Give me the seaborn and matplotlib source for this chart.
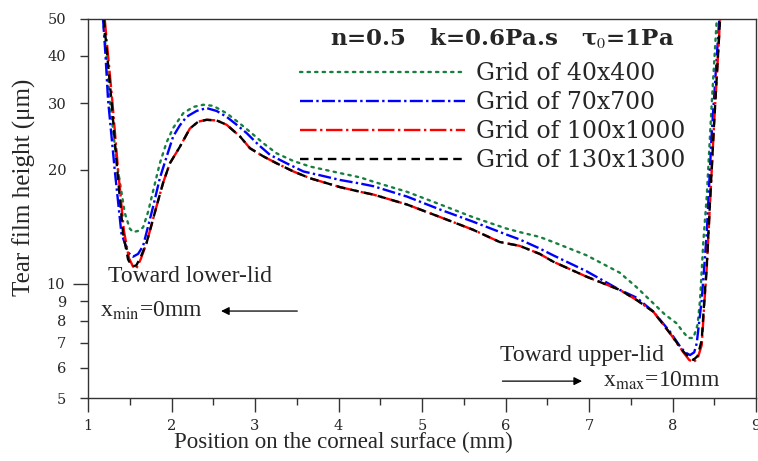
import numpy as np
import pandas as pd
import matplotlib
matplotlib.use("Agg")
import matplotlib.pyplot as plt
import seaborn as sns
from matplotlib.ticker import FixedLocator, FixedFormatter

# ---- data ----
x_40 = [1.18, 1.22, 1.26, 1.34, 1.44, 1.50, 1.54, 1.60, 1.66, 1.72, 1.78, 1.86, 1.94, 2.02,
        2.14, 2.26, 2.38, 2.50, 2.66, 2.80, 2.94, 3.10, 3.26, 3.46, 3.66, 4.02, 4.26, 4.42,
        4.82, 5.22, 5.61, 6.01, 6.17, 6.41, 6.57, 6.97, 7.37, 7.57, 7.77, 7.91, 8.05, 8.12,
        8.19, 8.25, 8.30, 8.33, 8.37, 8.41, 8.47, 8.53]
h_40 = [50, 40, 30.6, 21.2, 15.4, 14.0, 13.7, 13.8, 14.1, 15.5, 17.6, 20.8, 23.6, 25.8,
        28.2, 29.3, 29.7, 29.5, 28.2, 26.7, 25.2, 23.5, 22.1, 21.1, 20.4, 19.6, 19.1, 18.6,
        17.5, 16.2, 15.0, 14.0, 13.7, 13.3, 12.9, 11.9, 10.7, 9.8, 8.89, 8.3, 7.87, 7.5,
        7.2, 7.2, 7.8, 9.07, 13.0, 17.0, 30.0, 50]

x_70 = [1.18, 1.21, 1.24, 1.32, 1.40, 1.48, 1.54, 1.60, 1.66, 1.72, 1.78, 1.86, 1.94, 2.02,
        2.10, 2.18, 2.30, 2.42, 2.54, 2.66, 2.78, 2.90, 3.04, 3.18, 3.38, 3.58, 3.80, 4.02,
        4.26, 4.42, 4.82, 5.22, 5.61, 6.01, 6.17, 6.41, 6.57, 6.97, 7.37, 7.57, 7.77, 7.97,
        8.09, 8.15, 8.21, 8.26, 8.29, 8.35, 8.41, 8.47, 8.56]
h_70 = [50, 40, 30.6, 20.0, 13.6, 12.1, 11.8, 12.0, 12.6, 14.2, 16.0, 19.0, 21.6, 24.5,
        26.2, 27.6, 28.6, 29.1, 28.6, 27.6, 26.3, 25.0, 23.3, 21.9, 20.8, 19.8, 19.3, 18.8,
        18.4, 18.1, 17.0, 15.7, 14.6, 13.5, 13.1, 12.4, 11.9, 10.8, 9.64, 9.2, 8.45, 7.48,
        6.84, 6.6, 6.49, 6.6, 6.97, 9.07, 13.6, 25.0, 50]

x_100 = [1.20, 1.25, 1.29, 1.36, 1.43, 1.49, 1.54, 1.58, 1.63, 1.70, 1.76, 1.82, 1.90, 1.98,
         2.10, 2.22, 2.32, 2.42, 2.54, 2.66, 2.82, 2.94, 3.10, 3.26, 3.46, 3.66, 4.02, 4.26,
         4.42, 4.82, 5.22, 5.61, 5.93, 6.17, 6.41, 6.57, 6.97, 7.37, 7.57, 7.77, 7.97, 8.13,
         8.20, 8.25, 8.30, 8.35, 8.38, 8.41, 8.45, 8.50, 8.57]
h_100 = [50, 38, 30.6, 20.0, 13.8, 11.7, 11.1, 11.0, 11.6, 12.8, 14.3, 16.0, 18.5, 20.8,
         23.0, 25.7, 26.8, 27.1, 27.0, 26.3, 24.5, 22.8, 21.7, 20.8, 19.8, 19.0, 18.0, 17.5,
         17.2, 16.2, 15.0, 13.9, 12.9, 12.6, 12.0, 11.45, 10.45, 9.64, 9.07, 8.45, 7.41, 6.6,
         6.3, 6.22, 6.35, 6.9, 8.8, 11.0, 16.4, 27.0, 50]

x_130 = [1.19, 1.24, 1.28, 1.35, 1.42, 1.48, 1.53, 1.58, 1.64, 1.70, 1.76, 1.82, 1.90, 1.98,
         2.10, 2.22, 2.32, 2.42, 2.54, 2.66, 2.82, 2.94, 3.10, 3.26, 3.46, 3.66, 4.02, 4.26,
         4.42, 4.82, 5.22, 5.61, 5.93, 6.17, 6.41, 6.57, 6.97, 7.37, 7.57, 7.77, 7.97, 8.13,
         8.20, 8.25, 8.30, 8.35, 8.38, 8.41, 8.45, 8.50, 8.57]
h_130 = [50, 38, 30.6, 20.0, 13.6, 11.6, 11.1, 11.2, 11.9, 12.8, 14.3, 16.0, 18.5, 20.8,
         23.0, 25.7, 26.8, 27.1, 27.0, 26.3, 24.5, 22.8, 21.7, 20.8, 19.8, 19.0, 18.0, 17.5,
         17.2, 16.2, 15.0, 13.9, 12.9, 12.6, 12.0, 11.45, 10.45, 9.64, 9.07, 8.45, 7.41, 6.63,
         6.4, 6.30, 6.45, 7.1, 9.0, 11.1, 16.6, 27.0, 50]

labels = ["Grid of 40x400", "Grid of 70x700", "Grid of 100x1000", "Grid of 130x1300"]
x_ticks = [1, 2, 3, 4, 5, 6, 7, 8, 9]
y_major = [10]
y_minor = [5, 6, 7, 8, 9, 20, 30, 40, 50]

colors = ["#17803f", "#0000ff", "#ff0000", "#000000"]
styles = [(0, (1, 2.2)), (0, (5.5, 1.4, 1, 1.4)), (0, (7, 1.5, 1, 1.5)), (0, (3.6, 2.3))]

sns.set_style("white")
plt.rcParams['font.family'] = ['Liberation Serif', 'DejaVu Serif']
plt.rcParams['mathtext.fontset'] = 'stix'

fig = plt.figure(figsize=(7.58, 4.61), dpi=100)
ax = fig.add_axes([88 / 758, 1 - 398 / 461, (756 - 88) / 758, (398 - 19) / 461])

series = [(x_40, h_40), (x_70, h_70), (x_100, h_100), (x_130, h_130)]
for (xs, hs), lab, c, ls in zip(series, labels, colors, styles):
    df = pd.DataFrame({"x": xs, "h": hs})
    sns.lineplot(data=df, x="x", y="h", ax=ax, color=c, lw=1.7, linestyle=ls,
                 label=lab, estimator=None, sort=False,
                 dash_capstyle="round" if lab == labels[0] else "butt")

ax.set_yscale("log")
ax.set_xlim(1, 9)
ax.set_ylim(5, 50)

ax.xaxis.set_major_locator(FixedLocator(x_ticks))
ax.xaxis.set_minor_locator(FixedLocator([v + 0.5 for v in x_ticks[:-1]]))
ax.yaxis.set_major_locator(FixedLocator(y_major))
ax.yaxis.set_major_formatter(FixedFormatter([str(v) for v in y_major]))
ax.yaxis.set_minor_locator(FixedLocator(y_minor))
ax.yaxis.set_minor_formatter(FixedFormatter([str(v) for v in y_minor]))

tick_col = "#333333"
ax.tick_params(axis="x", which="major", direction="out", length=10, width=1, color=tick_col,
               labelsize=10.5, pad=5, bottom=True)
ax.tick_params(axis="x", which="minor", direction="out", length=5, width=1, color=tick_col,
               bottom=True)
ax.tick_params(axis="y", which="major", direction="out", length=11, width=1, color=tick_col,
               labelsize=10.5, pad=6, left=True)
ax.tick_params(axis="y", which="minor", direction="out", length=5.5, width=1, color=tick_col,
               labelsize=10.5, pad=10, left=True)
for lab in (ax.get_xticklabels() + ax.get_yticklabels()
            + ax.get_yticklabels(minor=True)):
    lab.set_fontfamily("DejaVu Serif")

for sp in ax.spines.values():
    sp.set_color(tick_col)
    sp.set_linewidth(1.0)

ax.set_xlabel("Position on the corneal surface (mm)", fontsize=16.5)
ax.xaxis.set_label_coords((343 - 88) / 668, (398 - 432) / 379)
ax.set_ylabel("Tear film height (μm)", fontsize=18)
ax.yaxis.set_label_coords((36 - 88) / 668, (398 - 187) / 379)

leg = ax.legend(loc="upper left", bbox_to_anchor=((300 - 88) / 668, (398 - 62) / 379),
                frameon=False, handlelength=7.0, handletextpad=0.45, labelspacing=0.26,
                borderpad=0, borderaxespad=0,
                prop={"family": "DejaVu Serif", "size": 17})

ax.text((502 - 88) / 668, (398 - 38) / 379, "n=0.5   k=0.6Pa.s   τ$_0$=1Pa",
        transform=ax.transAxes, ha="center", va="center", fontsize=16.5,
        family="DejaVu Serif", fontweight="bold")

# annotations
ann_font = dict(fontsize=17, family="Liberation Serif", va="center", ha="left")
ax.text(1.24, 10.45, "Toward lower-lid", **ann_font)
ax.text(1.14, 8.48, r"x$_{\mathrm{min}}$=0mm", **ann_font)
ax.text(5.93, 6.49, "Toward upper-lid", **ann_font)
ax.text(7.17, 5.54, r"x$_{\mathrm{max}}$=10mm", **ann_font)
ax.annotate("", xy=(2.56, 8.48), xytext=(3.54, 8.48),
            arrowprops=dict(arrowstyle="-|>", color="black", lw=0.9, mutation_scale=12))
ax.annotate("", xy=(6.95, 5.54), xytext=(5.93, 5.54),
            arrowprops=dict(arrowstyle="-|>", color="black", lw=0.9, mutation_scale=12))

fig.savefig("out.png", dpi=100)
